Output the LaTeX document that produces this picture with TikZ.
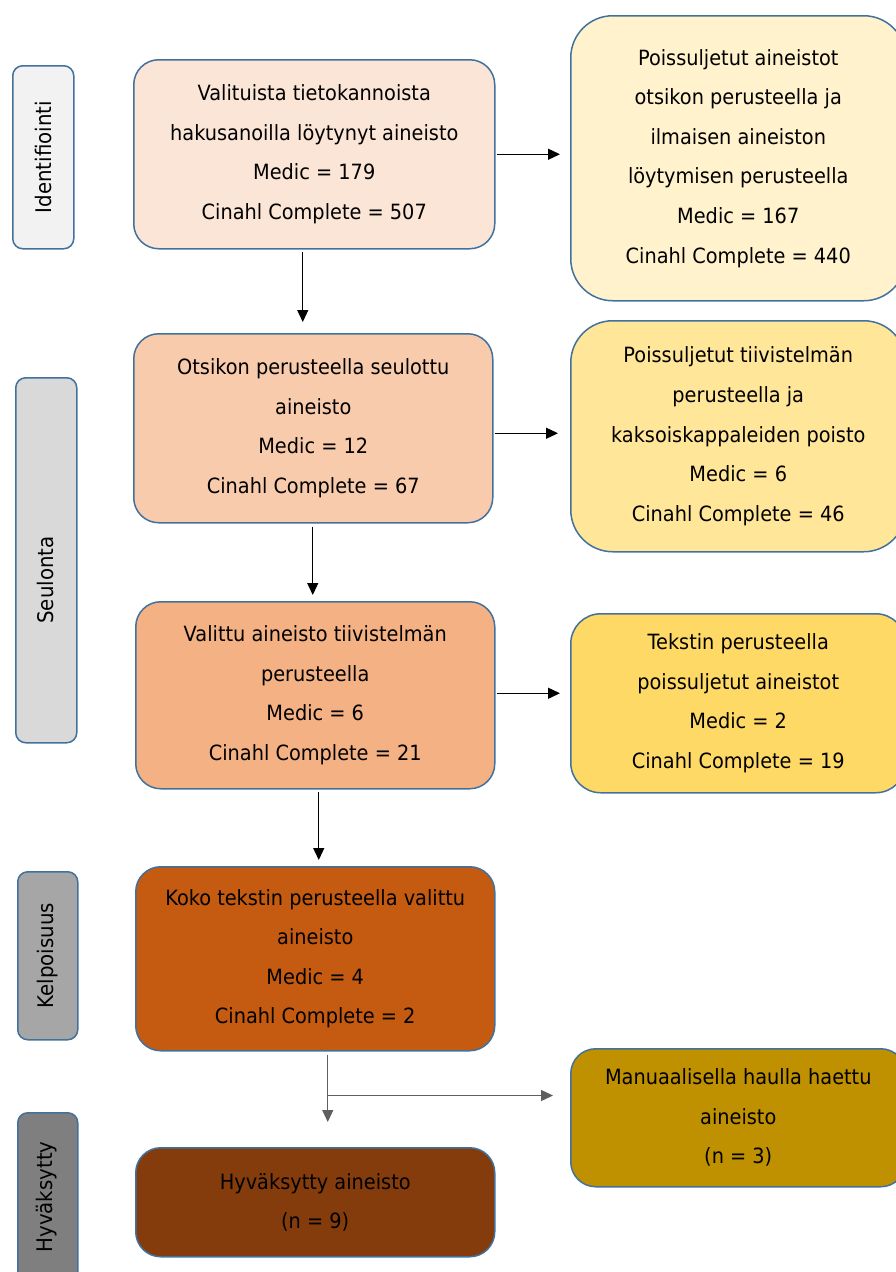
\documentclass[tikz,border=0pt]{standalone}
\usepackage{fontspec}
\setmainfont{DejaVu Sans}[FakeStretch=0.92]
\usetikzlibrary{arrows.meta,calc}
\definecolor{bord}{HTML}{41719C}
\definecolor{cA}{HTML}{FBE5D6}
\definecolor{cB}{HTML}{F8CBAD}
\definecolor{cC}{HTML}{F4B183}
\definecolor{cD}{HTML}{C55A11}
\definecolor{cE}{HTML}{843C0C}
\definecolor{rA}{HTML}{FFF2CC}
\definecolor{rB}{HTML}{FFE699}
\definecolor{rC}{HTML}{FFD966}
\definecolor{rD}{HTML}{BF9000}
\definecolor{gA}{HTML}{F2F2F2}
\definecolor{gB}{HTML}{D9D9D9}
\definecolor{gC}{HTML}{A6A6A6}
\definecolor{gD}{HTML}{7F7F7F}
\definecolor{arrg}{HTML}{5F5F5F}
\begin{document}
\begin{tikzpicture}[x=1pt,y=-1pt,
  box/.style={draw=bord, line width=1.5pt, rounded corners=25pt, anchor=north west,
    align=center, inner sep=0pt, text=black, font=\fontsize{21}{39.6}\selectfont},
  rbox/.style={box, rounded corners=42pt},
  labbox/.style={draw=bord, line width=1.5pt, rounded corners=10pt, anchor=north west, inner sep=0pt},
  labtxt/.style={rotate=90, inner sep=0pt, font=\fontsize{21.5}{24}\selectfont},
  arr/.style={-{Triangle[length=12pt,width=11pt]}, line width=1.3pt},
]
\useasboundingbox (0,0) rectangle (896,1272);
\clip (0,0) rectangle (896,1272);

% left stage labels
\node[labbox, fill=gA, minimum width=61pt, minimum height=183pt] (l1) at (12,65) {};
\node[labtxt] (t1) at (l1.center) {Identifiointi};
\node[labbox, fill=gB, minimum width=61pt, minimum height=365pt] (l2) at (15,377) {};
\node[labtxt] (t2) at (45.5,580) {Seulonta};
\node[labbox, fill=gC, minimum width=60pt, minimum height=168pt] (l3) at (17,871) {};
\node[labtxt] (t3) at (l3.center) {Kelpoisuus};
\node[labbox, fill=gD, minimum width=60pt, minimum height=180pt] (l4) at (17,1112) {};
\node[labtxt] (t4) at (47,1197) {Hyväksytty};

% main column
\node[box, fill=cA, minimum width=361pt, minimum height=189pt] (b1) at (133,59)
  {Valituista tietokannoista\\hakusanoilla löytynyt aineisto\\Medic = 179\\Cinahl Complete = 507};
\node[box, fill=cB, minimum width=359pt, minimum height=189pt] (b2) at (133,333)
  {Otsikon perusteella seulottu\\aineisto\\Medic = 12\\Cinahl Complete = 67};
\node[box, fill=cC, minimum width=359pt, minimum height=187pt] (b3) at (135,601)
  {Valittu aineisto tiivistelmän\\perusteella\\Medic = 6\\Cinahl Complete = 21};
\node[box, fill=cD, minimum width=359pt, minimum height=184pt] (b4) at (135,866)
  {Koko tekstin perusteella valittu\\aineisto\\Medic = 4\\Cinahl Complete = 2};
\node[box, fill=cE, minimum width=359pt, minimum height=109pt] (b5) at (135,1147)
  {Hyväksytty aineisto\\(n = 9)};

% right column
\node[rbox, fill=rA, minimum width=335pt, minimum height=285pt] (r1) at (570,15)
  {Poissuljetut aineistot\\otsikon perusteella ja\\ilmaisen aineiston\\löytymisen perusteella\\Medic = 167\\Cinahl Complete = 440};
\node[rbox, fill=rB, minimum width=335pt, minimum height=231pt] (r2) at (570,320)
  {Poissuljetut tiivistelmän\\perusteella ja\\kaksoiskappaleiden poisto\\Medic = 6\\Cinahl Complete = 46};
\node[rbox, fill=rC, minimum width=335pt, minimum height=179pt, rounded corners=30pt] (r3) at (570,613)
  {Tekstin perusteella\\poissuljetut aineistot\\Medic = 2\\Cinahl Complete = 19};
\node[rbox, fill=rD, minimum width=335pt, minimum height=138pt, rounded corners=25pt] (r4) at (570,1048)
  {Manuaalisella haulla haettu\\aineisto\\(n = 3)};

% horizontal arrows
\draw[arr] ($(b1.east)+(1,0)$) -- ($(r1.west |- b1.east)+(-10,0)$);
\draw[arr] ($(b2.east)+(1,5)$) -- ($(r2.west |- b2.east)+(-12,5)$);
\draw[arr] ($(b3.east)+(1,-2)$) -- ($(r3.west |- b3.east)+(-10,-2)$);

% vertical arrows
\draw[arr] ($(b1.south)+(-11.5,2)$) -- ($(b1.south |- b2.north)+(-11.5,-11)$);
\draw[arr] ($(b2.south)+(-0.5,3)$) -- ($(b2.south |- b3.north)+(-0.5,-6)$);
\draw[arr] ($(b3.south)+(3.5,2)$) -- ($(b3.south |- b4.north)+(3.5,-6)$);
\coordinate (j) at ($(b4.south)+(12.5,44)$);
\draw[arr, draw=arrg] ($(b4.south)+(12.5,3)$) -- ($(b4.south |- b5.north)+(12.5,-25)$);
\draw[arr, draw=arrg] (j) -- ($(r4.west |- j)+(-17,0)$);
\end{tikzpicture}
\end{document}
